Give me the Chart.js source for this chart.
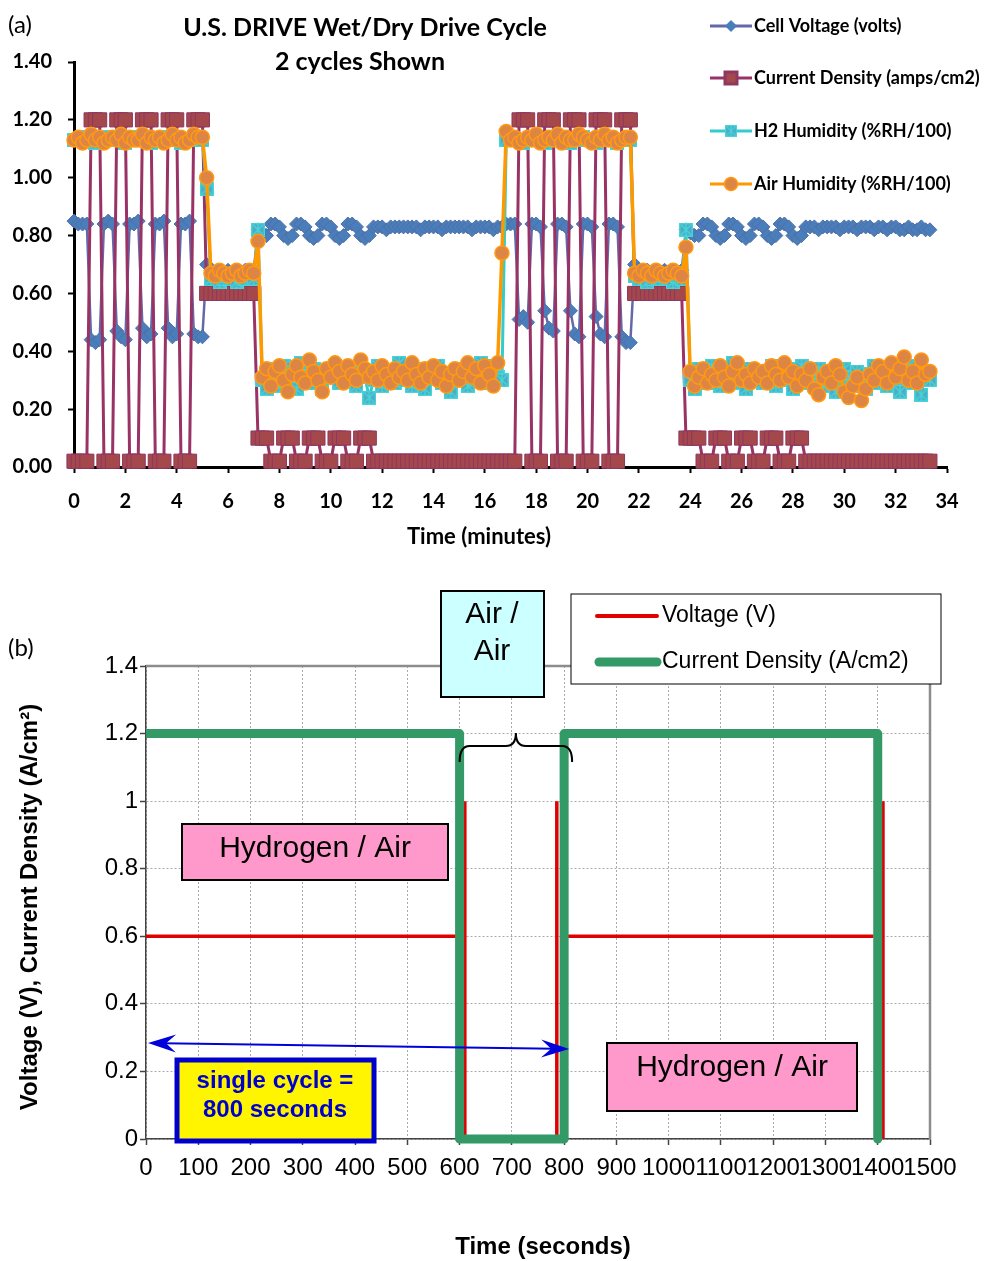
<!DOCTYPE html>
<html>
<head>
<meta charset="utf-8">
<script src="https://cdn.jsdelivr.net/npm/chart.js@4.4.0/dist/chart.umd.min.js"></script>
<style>
  html, body { margin: 0; padding: 0; background: #fff; }
  #wrap { position: relative; width: 989px; height: 1261px; }
  #topBox { position: absolute; left: 0; top: 0; width: 989px; height: 560px; }
  #botBox { position: absolute; left: 0; top: 560px; width: 989px; height: 701px; }
</style>
</head>
<body>
<div id="wrap">
  <div id="topBox"><canvas id="cycleChart"></canvas></div>
  <div id="botBox"><canvas id="profileChart"></canvas></div>
</div>
<script>
// ---------- panel (a): logged data, one sample every 10 s ----------
var sampleMinutes = 1 / 6;

var cellVoltage = [
  0.85,0.84,0.84,0.84,0.44,0.43,0.44,0.84,0.85,0.84,
  0.47,0.45,0.44,0.84,0.84,0.85,0.48,0.45,0.46,0.84,
  0.84,0.85,0.48,0.45,0.46,0.84,0.84,0.85,0.46,0.45,
  0.45,0.70,0.68,0.67,0.68,0.67,0.68,0.67,0.68,0.67,
  0.68,0.67,0.68,0.82,0.81,0.80,0.84,0.84,0.83,0.80,
  0.79,0.80,0.84,0.84,0.83,0.80,0.79,0.80,0.84,0.84,
  0.83,0.80,0.79,0.80,0.84,0.84,0.83,0.80,0.79,0.80,
  0.83,0.83,0.83,0.82,0.83,0.83,0.83,0.83,0.83,0.83,
  0.83,0.82,0.83,0.83,0.83,0.83,0.82,0.83,0.83,0.83,
  0.83,0.83,0.83,0.82,0.83,0.83,0.83,0.83,0.82,0.83,
  0.83,0.84,0.84,0.84,0.51,0.52,0.50,0.84,0.84,0.83,
  0.54,0.48,0.47,0.84,0.84,0.83,0.54,0.46,0.45,0.84,
  0.84,0.83,0.52,0.46,0.45,0.84,0.84,0.83,0.45,0.43,
  0.43,0.70,0.68,0.67,0.68,0.67,0.68,0.67,0.68,0.67,
  0.68,0.67,0.68,0.82,0.81,0.80,0.80,0.84,0.84,0.83,
  0.80,0.79,0.80,0.84,0.84,0.83,0.80,0.79,0.80,0.84,
  0.84,0.83,0.80,0.79,0.80,0.84,0.84,0.83,0.80,0.79,
  0.80,0.83,0.83,0.83,0.82,0.83,0.83,0.83,0.83,0.82,
  0.83,0.83,0.83,0.82,0.83,0.83,0.83,0.82,0.83,0.83,
  0.82,0.83,0.83,0.82,0.82,0.83,0.82,0.82,0.83,0.82,
  0.82
];

var currentDensity = [
  0.02,0.02,0.02,0.02,1.2,1.2,1.2,0.02,0.02,0.02,
  1.2,1.2,1.2,0.02,0.02,0.02,1.2,1.2,1.2,0.02,
  0.02,0.02,1.2,1.2,1.2,0.02,0.02,0.02,1.2,1.2,
  1.2,0.6,0.6,0.6,0.6,0.6,0.6,0.6,0.6,0.6,
  0.6,0.6,0.6,0.1,0.1,0.1,0.02,0.02,0.02,0.1,
  0.1,0.1,0.02,0.02,0.02,0.1,0.1,0.1,0.02,0.02,
  0.02,0.1,0.1,0.1,0.02,0.02,0.02,0.1,0.1,0.1,
  0.02,0.02,0.02,0.02,0.02,0.02,0.02,0.02,0.02,0.02,
  0.02,0.02,0.02,0.02,0.02,0.02,0.02,0.02,0.02,0.02,
  0.02,0.02,0.02,0.02,0.02,0.02,0.02,0.02,0.02,0.02,
  0.02,0.02,0.02,0.02,1.2,1.2,1.2,0.02,0.02,0.02,
  1.2,1.2,1.2,0.02,0.02,0.02,1.2,1.2,1.2,0.02,
  0.02,0.02,1.2,1.2,1.2,0.02,0.02,0.02,1.2,1.2,
  1.2,0.6,0.6,0.6,0.6,0.6,0.6,0.6,0.6,0.6,
  0.6,0.6,0.6,0.1,0.1,0.1,0.1,0.02,0.02,0.02,
  0.1,0.1,0.1,0.02,0.02,0.02,0.1,0.1,0.1,0.02,
  0.02,0.02,0.1,0.1,0.1,0.02,0.02,0.02,0.1,0.1,
  0.1,0.02,0.02,0.02,0.02,0.02,0.02,0.02,0.02,0.02,
  0.02,0.02,0.02,0.02,0.02,0.02,0.02,0.02,0.02,0.02,
  0.02,0.02,0.02,0.02,0.02,0.02,0.02,0.02,0.02,0.02,
  0.02
];

var h2Humidity = [
  1.13,1.13,1.14,1.13,1.13,1.12,1.13,1.13,1.14,1.13,
  1.13,1.13,1.12,1.13,1.14,1.13,1.13,1.13,1.12,1.13,
  1.13,1.14,1.13,1.13,1.13,1.12,1.13,1.13,1.14,1.13,
  1.13,0.96,0.65,0.66,0.64,0.65,0.66,0.65,0.64,0.66,
  0.65,0.66,0.65,0.82,0.30,0.27,0.34,0.31,0.28,0.35,
  0.30,0.33,0.27,0.36,0.31,0.29,0.34,0.30,0.27,0.33,
  0.31,0.35,0.29,0.32,0.30,0.34,0.28,0.33,0.31,0.24,
  0.30,0.35,0.28,0.33,0.31,0.29,0.36,0.30,0.32,0.28,
  0.34,0.30,0.27,0.33,0.31,0.35,0.29,0.32,0.26,0.30,
  0.34,0.31,0.28,0.33,0.30,0.36,0.29,0.32,0.35,0.31,
  0.30,1.13,1.14,1.13,1.13,1.12,1.13,1.13,1.14,1.13,
  1.12,1.13,1.13,1.14,1.13,1.13,1.12,1.13,1.13,1.14,
  1.13,1.13,1.12,1.13,1.14,1.13,1.13,1.12,1.13,1.13,
  1.13,0.66,0.65,0.66,0.64,0.65,0.66,0.65,0.66,0.65,
  0.64,0.66,0.65,0.82,0.30,0.27,0.34,0.31,0.29,0.35,
  0.30,0.28,0.33,0.31,0.36,0.29,0.32,0.27,0.34,0.30,
  0.33,0.29,0.31,0.35,0.28,0.32,0.30,0.34,0.27,0.31,
  0.35,0.29,0.32,0.30,0.34,0.28,0.31,0.33,0.26,0.30,
  0.34,0.31,0.28,0.33,0.30,0.27,0.32,0.35,0.29,0.31,
  0.28,0.34,0.30,0.26,0.32,0.35,0.29,0.31,0.25,0.33,
  0.30
];

var airHumidity = [
  1.13,1.14,1.12,1.13,1.15,1.13,1.14,1.12,1.13,1.14,
  1.13,1.15,1.12,1.14,1.13,1.13,1.15,1.12,1.14,1.13,
  1.14,1.12,1.13,1.15,1.13,1.14,1.12,1.13,1.15,1.14,
  1.14,1.00,0.67,0.66,0.68,0.67,0.66,0.67,0.68,0.66,
  0.67,0.68,0.67,0.78,0.31,0.34,0.28,0.33,0.35,0.30,
  0.26,0.32,0.35,0.31,0.29,0.37,0.33,0.30,0.26,0.34,
  0.31,0.36,0.33,0.29,0.35,0.32,0.30,0.37,0.34,0.31,
  0.33,0.30,0.35,0.32,0.29,0.34,0.31,0.33,0.30,0.36,
  0.32,0.29,0.34,0.31,0.35,0.30,0.33,0.28,0.32,0.34,
  0.30,0.33,0.36,0.31,0.34,0.29,0.35,0.32,0.28,0.36,
  0.74,1.16,1.13,1.14,1.12,1.13,1.14,1.13,1.15,1.12,
  1.13,1.14,1.13,1.15,1.12,1.14,1.13,1.13,1.15,1.14,
  1.13,1.12,1.14,1.13,1.15,1.13,1.14,1.12,1.13,1.14,
  1.14,0.67,0.66,0.68,0.67,0.66,0.68,0.67,0.66,0.67,
  0.68,0.67,0.66,0.76,0.33,0.28,0.31,0.34,0.29,0.32,
  0.30,0.35,0.31,0.28,0.33,0.36,0.30,0.32,0.29,0.34,
  0.31,0.33,0.29,0.35,0.32,0.30,0.36,0.31,0.33,0.28,
  0.32,0.30,0.34,0.27,0.25,0.31,0.33,0.29,0.35,0.32,
  0.26,0.24,0.28,0.31,0.23,0.27,0.32,0.30,0.35,0.33,
  0.29,0.36,0.31,0.34,0.38,0.30,0.33,0.29,0.37,0.32,
  0.33
];

// ---------- panel (b): idealised cycle ----------
var voltTimes  = [0,   600, 600,  610, 610, 786, 786, 800,  805, 1392, 1400, 1410, 1410];
var voltValues = [0.6, 0.6, null, 1.0, 0,   0,   1.0, null, 0.6, 0.6,  null, 1.0,  0];
var curTimes  = [0,   600, 600, 800, 800, 1400, 1400];
var curValues = [1.2, 1.2, 0,   0,   1.2, 1.2,  0];

function toPoints(xs, ys) {
  return ys.map(function (v, i) { return { x: xs[i], y: v }; });
}
function sampled(vals) {
  return vals.map(function (v, i) { return { x: i * sampleMinutes, y: v }; });
}

// H2 humidity marker: teal square with a cross
function h2Marker() {
  var c = document.createElement('canvas');
  c.width = 14; c.height = 14;
  var g = c.getContext('2d');
  g.fillStyle = '#4BACC6';
  g.fillRect(0, 0, 14, 14);
  g.strokeStyle = '#45D6DA';
  g.lineWidth = 1.4;
  g.beginPath();
  g.moveTo(2, 2); g.lineTo(12, 12);
  g.moveTo(12, 2); g.lineTo(2, 12);
  g.moveTo(7, 1); g.lineTo(7, 13);
  g.stroke();
  g.strokeRect(0.7, 0.7, 12.6, 12.6);
  return c;
}
var h2Img = h2Marker();

var LATO = 'Lato, "Open Sans", sans-serif';
var ARIAL = '"Liberation Sans", Arial, sans-serif';

var cycleSets = [
  { label: 'Cell Voltage (volts)', data: sampled(cellVoltage), borderColor: '#6468A8', borderWidth: 2.5,
    pointStyle: 'rectRot', pointRadius: 7, pointBackgroundColor: '#4A7EBB', pointBorderColor: '#4E6FA6',
    pointBorderWidth: 1, order: 4 },
  { label: 'Current Density (amps/cm2)', data: sampled(currentDensity), borderColor: '#993366', borderWidth: 3,
    pointStyle: 'rect', pointRadius: 10, pointBackgroundColor: '#A5484B', pointBorderColor: '#8E3761',
    pointBorderWidth: 1, order: 3 },
  { label: 'H2 Humidity (%RH/100)', data: sampled(h2Humidity), borderColor: '#33CCCC', borderWidth: 3,
    pointStyle: h2Img, pointRadius: 7, order: 2 },
  { label: 'Air Humidity (%RH/100)', data: sampled(airHumidity), borderColor: '#FF9900', borderWidth: 3.5,
    pointStyle: 'circle', pointRadius: 7, pointBackgroundColor: '#DD8545', pointBorderColor: '#FF9A12',
    pointBorderWidth: 1.5, order: 1 }
];

function legendMarker(ctx, ds, x, y) {
  ctx.save();
  if (ds.pointStyle === 'rectRot') {
    ctx.fillStyle = ds.pointBackgroundColor;
    ctx.beginPath();
    ctx.moveTo(x, y - 6); ctx.lineTo(x + 6, y); ctx.lineTo(x, y + 6); ctx.lineTo(x - 6, y);
    ctx.closePath(); ctx.fill();
  } else if (ds.pointStyle === 'rect') {
    ctx.fillStyle = ds.pointBackgroundColor;
    ctx.strokeStyle = ds.pointBorderColor;
    ctx.fillRect(x - 6, y - 6, 12, 12);
    ctx.strokeRect(x - 6, y - 6, 12, 12);
  } else if (ds.pointStyle === 'circle') {
    ctx.fillStyle = ds.pointBackgroundColor;
    ctx.strokeStyle = ds.pointBorderColor;
    ctx.lineWidth = 1.5;
    ctx.beginPath(); ctx.arc(x, y, 6.5, 0, Math.PI * 2); ctx.fill(); ctx.stroke();
  } else {
    ctx.drawImage(ds.pointStyle, x - 6, y - 6, 12, 12);
  }
  ctx.restore();
}

var topDecor = {
  id: 'topDecor',
  afterDraw: function (chart) {
    var ctx = chart.ctx;
    ctx.save();
    ctx.fillStyle = '#000';
    ctx.textBaseline = 'middle';
    ctx.font = '24px ' + LATO;
    ctx.textAlign = 'left';
    ctx.fillText('(a)', 8, 25);
    ctx.font = 'bold 25px ' + LATO;
    ctx.textAlign = 'center';
    ctx.fillText('U.S. DRIVE Wet/Dry Drive Cycle', 365, 28);
    ctx.fillText('2 cycles Shown', 360, 62);
    ctx.font = 'bold 22px ' + LATO;
    ctx.fillText('Time (minutes)', 479, 537);

    // legend
    var rows = [26, 78, 131, 184];
    ctx.font = 'bold 18px ' + LATO;
    ctx.textAlign = 'left';
    chart.data.datasets.forEach(function (ds, i) {
      var y = rows[i];
      ctx.strokeStyle = ds.borderColor;
      ctx.lineWidth = 3;
      ctx.beginPath(); ctx.moveTo(710, y); ctx.lineTo(752, y); ctx.stroke();
      legendMarker(ctx, ds, 731, y);
      ctx.fillStyle = '#000';
      ctx.fillText(ds.label, 754, y);
    });
    ctx.restore();
  }
};

new Chart(document.getElementById('cycleChart'), {
  type: 'line',
  data: { datasets: cycleSets },
  options: {
    responsive: true,
    maintainAspectRatio: false,
    animation: false,
    layout: { padding: { left: 0, right: 42, top: 62, bottom: 0 } },
    elements: { line: { tension: 0 } },
    datasets: { line: { clip: false } },
    plugins: { legend: { display: false }, tooltip: { enabled: false } },
    scales: {
      x: {
        type: 'linear', min: 0, max: 34,
        afterFit: function (s) { s.height = 93; },
        ticks: { stepSize: 2, color: '#000', padding: 17, maxRotation: 0,
                 font: { family: LATO, size: 20, weight: 'bold' } },
        grid: { drawOnChartArea: false, tickLength: 6, tickColor: '#000', tickWidth: 2 },
        border: { color: '#000', width: 3 }
      },
      y: {
        min: 0, max: 1.4,
        afterFit: function (s) { s.width = 74; },
        ticks: { stepSize: 0.2, color: '#000', padding: 16,
                 font: { family: LATO, size: 20, weight: 'bold' },
                 callback: function (v) { return v.toFixed(2); } },
        grid: { drawOnChartArea: false, tickLength: 6, tickColor: '#000', tickWidth: 2 },
        border: { color: '#000', width: 3 }
      }
    }
  },
  plugins: [topDecor]
});

// ---------- panel (b) ----------
function box(ctx, x, y, w, h, fill, stroke, lw) {
  ctx.fillStyle = fill;
  ctx.fillRect(x, y, w, h);
  ctx.strokeStyle = stroke;
  ctx.lineWidth = lw;
  ctx.strokeRect(x, y, w, h);
}

function arrowHead(ctx, tipX, tipY, dirX, dirY) {
  var len = 28, half = 9, notch = 18;
  var px = -dirY, py = dirX;
  ctx.beginPath();
  ctx.moveTo(tipX, tipY);
  ctx.lineTo(tipX - dirX * len + px * half, tipY - dirY * len + py * half);
  ctx.lineTo(tipX - dirX * notch, tipY - dirY * notch);
  ctx.lineTo(tipX - dirX * len - px * half, tipY - dirY * len - py * half);
  ctx.closePath();
  ctx.fill();
}

var botDecor = {
  id: 'botDecor',
  beforeDatasetsDraw: function (chart) {
    var a = chart.chartArea, ctx = chart.ctx;
    ctx.save();
    ctx.strokeStyle = '#8C8C8C';
    ctx.lineWidth = 2.5;
    ctx.beginPath();
    ctx.moveTo(a.left, a.top); ctx.lineTo(a.right, a.top); ctx.lineTo(a.right, a.bottom);
    ctx.stroke();
    ctx.restore();
  },
  afterDraw: function (chart) {
    var ctx = chart.ctx, xs = chart.scales.x;
    ctx.save();
    ctx.textBaseline = 'middle';
    ctx.fillStyle = '#000';
    ctx.font = '24px ' + LATO;
    ctx.textAlign = 'left';
    ctx.fillText('(b)', 8, 88);

    // titles
    ctx.font = 'bold 24px ' + ARIAL;
    ctx.textAlign = 'center';
    ctx.fillText('Time (seconds)', 543, 687);
    ctx.save();
    ctx.translate(30, 347);
    ctx.rotate(-Math.PI / 2);
    ctx.font = 'bold 24px ' + ARIAL;
    ctx.fillText('Voltage (V), Current Density (A/cm\u00B2)', 0, 0);
    ctx.restore();

    // legend box
    box(ctx, 571, 34, 370, 90, '#fff', '#000', 1);
    ctx.lineCap = 'round';
    ctx.strokeStyle = '#E00000'; ctx.lineWidth = 4;
    ctx.beginPath(); ctx.moveTo(597, 56); ctx.lineTo(657, 56); ctx.stroke();
    ctx.strokeStyle = '#339966'; ctx.lineWidth = 9;
    ctx.beginPath(); ctx.moveTo(599, 102); ctx.lineTo(657, 102); ctx.stroke();
    ctx.lineCap = 'butt';
    ctx.font = '23px ' + ARIAL;
    ctx.textAlign = 'left';
    ctx.fillStyle = '#000';
    ctx.fillText('Voltage (V)', 662, 56);
    ctx.fillText('Current Density (A/cm2)', 662, 102);

    // Air / Air box
    box(ctx, 441, 31, 103, 106, '#CCFFFF', '#000', 2);
    ctx.fillStyle = '#000';
    ctx.font = '30px ' + ARIAL;
    ctx.textAlign = 'center';
    ctx.fillText('Air /', 492, 55);
    ctx.fillText('Air', 492, 92);

    // brace over the air/air interval
    var bx0 = xs.getPixelForValue(600), bx1 = xs.getPixelForValue(800) + 8;
    var bc = (bx0 + bx1) / 2, yTip = 173, yMid = 186, yEnd = 202, r = 10;
    ctx.strokeStyle = '#000'; ctx.lineWidth = 2;
    ctx.beginPath();
    ctx.moveTo(bx0, yEnd);
    ctx.quadraticCurveTo(bx0, yMid, bx0 + r, yMid);
    ctx.lineTo(bc - r, yMid);
    ctx.quadraticCurveTo(bc, yMid, bc, yTip);
    ctx.quadraticCurveTo(bc, yMid, bc + r, yMid);
    ctx.lineTo(bx1 - r, yMid);
    ctx.quadraticCurveTo(bx1, yMid, bx1, yEnd);
    ctx.stroke();

    // hydrogen / air labels
    box(ctx, 182, 264, 266, 56, '#FF99CC', '#000', 2);
    box(ctx, 607, 483, 250, 68, '#FF99CC', '#000', 2);
    ctx.fillStyle = '#000';
    ctx.font = '30px ' + ARIAL;
    ctx.fillText('Hydrogen / Air', 315, 289);
    ctx.fillText('Hydrogen / Air', 732, 508);

    // single-cycle arrow from 0 to 800 s
    var ax0 = xs.getPixelForValue(0) + 2, ax1 = xs.getPixelForValue(800) + 5;
    var ay0 = 483, ay1 = 489;
    var dx = ax1 - ax0, dy = ay1 - ay0, L = Math.sqrt(dx * dx + dy * dy);
    dx /= L; dy /= L;
    ctx.strokeStyle = '#0000DD'; ctx.fillStyle = '#0000DD'; ctx.lineWidth = 2;
    ctx.beginPath(); ctx.moveTo(ax0 + dx * 15, ay0 + dy * 15); ctx.lineTo(ax1 - dx * 15, ay1 - dy * 15); ctx.stroke();
    arrowHead(ctx, ax1, ay1, dx, dy);
    arrowHead(ctx, ax0, ay0, -dx, -dy);

    // single cycle box
    box(ctx, 177, 500, 197, 81, '#FFF500', '#0000CC', 5);
    ctx.fillStyle = '#0000CC';
    ctx.font = 'bold 24px ' + ARIAL;
    ctx.fillText('single cycle =', 275, 521);
    ctx.fillText('800 seconds', 275, 550);
    ctx.restore();
  }
};

new Chart(document.getElementById('profileChart'), {
  type: 'line',
  data: {
    datasets: [
      { label: 'Voltage (V)', data: toPoints(voltTimes, voltValues), borderColor: '#E00000',
        borderWidth: 3.5, pointRadius: 0, spanGaps: false, order: 2 },
      { label: 'Current Density (A/cm2)', data: toPoints(curTimes, curValues), borderColor: '#339966',
        borderWidth: 9, pointRadius: 0, borderJoinStyle: 'round', order: 1 }
    ]
  },
  options: {
    responsive: true,
    maintainAspectRatio: false,
    animation: false,
    layout: { padding: { left: 0, right: 59, top: 106, bottom: 0 } },
    elements: { line: { tension: 0 } },
    datasets: { line: { clip: false } },
    plugins: { legend: { display: false }, tooltip: { enabled: false } },
    scales: {
      x: {
        type: 'linear', min: 0, max: 1500,
        afterFit: function (s) { s.height = 122; },
        ticks: { stepSize: 100, color: '#000', padding: 9, autoSkip: false, maxRotation: 0,
                 font: { family: ARIAL, size: 24 },
                 callback: function (v) { return String(v); } },
        grid: { color: '#AAAAAA', lineWidth: 1, tickLength: 6, tickColor: '#444', tickWidth: 1.5 },
        border: { color: '#444', width: 1.5, dash: [2, 2] }
      },
      y: {
        min: 0, max: 1.4,
        afterFit: function (s) { s.width = 146; },
        ticks: { stepSize: 0.2, color: '#000', padding: 2,
                 font: { family: ARIAL, size: 24 },
                 callback: function (v) { return String(+v.toFixed(1)); } },
        grid: { color: '#AAAAAA', lineWidth: 1, tickLength: 6, tickColor: '#444', tickWidth: 1.5 },
        border: { color: '#444', width: 1.5, dash: [2, 2] }
      }
    }
  },
  plugins: [botDecor]
});
</script>
</body>
</html>
